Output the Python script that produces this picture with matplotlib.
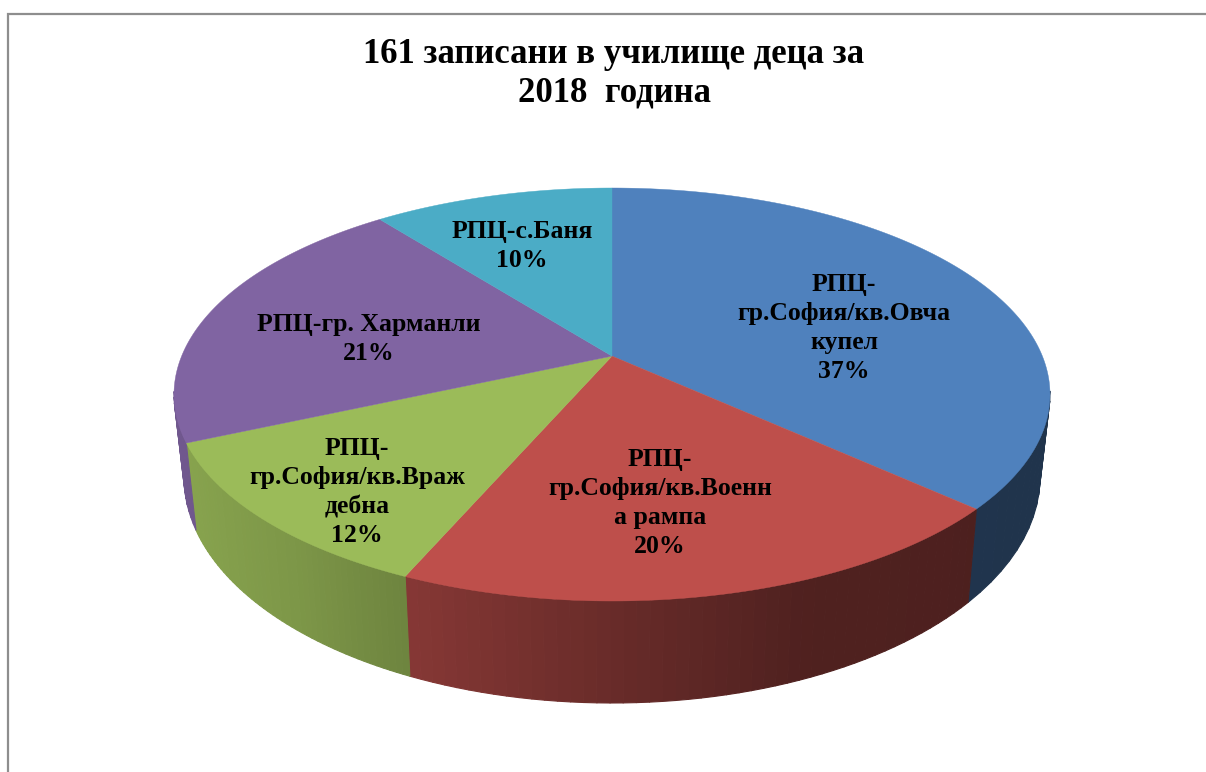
import numpy as np
import matplotlib
matplotlib.use("Agg")
import matplotlib.pyplot as plt
from matplotlib.collections import PolyCollection
from matplotlib.colors import to_rgb

# ---- data ----
title_lines = ["161 записани в училище деца за", "2018  година"]
categories = ["РПЦ-\nгр.София/кв.Овча\nкупел", "РПЦ-\nгр.София/кв.Военн\nа рампа",
              "РПЦ-\nгр.София/кв.Враж\nдебна", "РПЦ-гр. Харманли", "РПЦ-с.Баня"]
values = [37, 20, 12, 21, 10]
colors = ["#4F81BD", "#BE4F4B", "#9BBB59", "#8064A2", "#4BACC6"]
label_pos = [(844, 328), (660, 503), (357, 492), (369, 339), (522, 246)]

# ---- projection of the pie on the page (pixels) ----
TOP = dict(cx=612.0, cy=394.5, a=438.0, b=206.5)
BOT = dict(cx=612.0, cy=477.0, a=428.0, b=226.0)
K = 0.186
warp_at = np.radians([0, 133, 205, 248, 324, 360])
warp_by = np.radians([0, 1.0, 1.7, 2.2, 2.2, 0])
shade_x = [170, 300, 412, 612, 800, 1055]
shade_f = [0.88, 0.80, 0.70, 0.55, 0.42, 0.40]


def ellipse_param(theta):
    """Pie angle (clockwise from top) -> parameter on the tilted ellipse."""
    theta = theta - np.interp(theta, warp_at, warp_by)
    x, y = np.sin(theta), np.cos(theta)
    d = 1 + K * y
    return np.arctan2(x * np.sqrt(1 - K ** 2) / d, (y + K) / d)


def rim(t, e):
    return e["cx"] + e["a"] * np.sin(t), e["cy"] - e["b"] * np.cos(t)


plt.rcParams["font.family"] = ["Liberation Serif", "DejaVu Serif"]
fig = plt.figure(figsize=(12.06, 7.72), dpi=100, facecolor="white")
ax = fig.add_axes([0, 0, 1, 1])
ax.set_xlim(0, 1206)
ax.set_ylim(772, 0)
ax.axis("off")

# chart frame
ax.plot([8, 8, 1207], [773, 14, 14], color="#8E8E8E", lw=1.6, solid_joinstyle="miter", zorder=1)

fractions = np.cumsum([0] + values) / sum(values)
angles = 2 * np.pi * fractions

# side wall, front part only
for i, col in enumerate(colors):
    th = np.linspace(angles[i], angles[i + 1], 50)
    t = ellipse_param(th)
    t = np.where(t < 0, t + 2 * np.pi, t)
    keep = (t >= np.pi / 2 - 0.02) & (t <= 3 * np.pi / 2 + 0.02)
    t = t[keep]
    if t.size < 2:
        continue
    xt, yt = rim(t, TOP)
    xb, yb = rim(t, BOT)
    polys, cols = [], []
    for j in range(t.size - 1):
        polys.append([(xt[j], yt[j]), (xt[j + 1], yt[j + 1]), (xb[j + 1], yb[j + 1]), (xb[j], yb[j])])
        f = np.interp((xt[j] + xt[j + 1]) / 2, shade_x, shade_f)
        cols.append(tuple(c * f for c in to_rgb(col)))
    ax.add_collection(PolyCollection(polys, facecolors=cols, edgecolors=cols, linewidths=0.8, zorder=2))

# top faces
ck = (TOP["cx"], TOP["cy"] - TOP["b"] * K)
for i, col in enumerate(colors):
    th = np.linspace(angles[i], angles[i + 1], 200)
    x, y = rim(ellipse_param(th), TOP)
    ax.fill(np.r_[ck[0], x], np.r_[ck[1], y], facecolor=col, edgecolor=col, lw=0.3, zorder=3)

# labels
for name, v, (lx, ly) in zip(categories, values, label_pos):
    ax.text(lx, ly, f"{name}\n{v}%", ha="center", va="center", fontsize=18.5, fontweight="bold",
            color="black", linespacing=1.34, zorder=4)

for line, y in zip(title_lines, [63, 102]):
    ax.text(614, y, line, ha="center", va="baseline", fontsize=25, fontweight="bold", color="black", zorder=4)

fig.savefig("out.png", dpi=100, facecolor="white")
